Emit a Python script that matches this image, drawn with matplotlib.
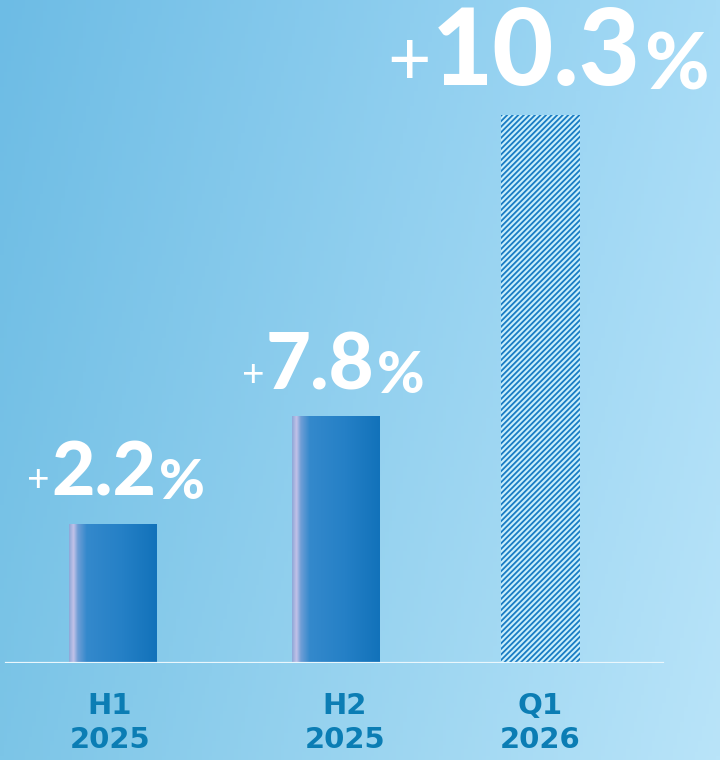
import numpy as np
import matplotlib.pyplot as plt
from matplotlib.colors import LinearSegmentedColormap, to_rgb

plt.rcParams["font.family"] = ["Lato", "DejaVu Sans"]
plt.rcParams["hatch.linewidth"] = 1.3

# data
periods = ["H1\n2025", "H2\n2025", "Q1\n2026"]
growth_pct = [2.2, 7.8, 10.3]
# drawn bar heights (chart is not to scale)
bar_heights = [139, 247, 548]
hatched = [False, False, True]

W, H = 720, 760
PT = 0.72  # points per pixel at dpi 100
fig = plt.figure(figsize=(W / 100, H / 100), dpi=100)

# background gradient
bg = fig.add_axes([0, 0, 1, 1])
tl, tr = np.array(to_rgb("#6dbce5")), np.array(to_rgb("#a6dbf6"))
bl, br = np.array(to_rgb("#7cc5e7")), np.array(to_rgb("#b9e4f9"))
u = np.linspace(0, 1, 200)[None, :, None]
v = np.linspace(0, 1, 200)[:, None, None]
img = (1 - v) * ((1 - u) * tl + u * tr) + v * ((1 - u) * bl + u * br)
bg.imshow(img, aspect="auto", extent=[0, 1, 0, 1])
bg.axis("off")

base_px = 97
ax = fig.add_axes([0, base_px / H, 1, 1 - base_px / H])
ax.patch.set_alpha(0)
for s in ax.spines.values():
    s.set_visible(False)

x_pos = [113, 336, 540.5]
widths = [88, 88, 79]

bar_cmap = LinearSegmentedColormap.from_list(
    "bar", [(0, "#8da8d8"), (0.05, "#c2c2e8"), (0.1, "#6f9ed6"),
            (0.2, "#3489cc"), (0.6, "#2580c6"), (1, "#1272ba")])

for i in range(len(periods)):
    if hatched[i]:
        ax.bar(x_pos[i], bar_heights[i], width=widths[i], color="#c8eefb",
               edgecolor="#1a7cc4", hatch="//////", linewidth=0)
    else:
        b = ax.bar(x_pos[i], bar_heights[i], width=widths[i], color="none")[0]
        grad = np.linspace(0, 1, 256)[None, :]
        im = ax.imshow(grad, cmap=bar_cmap, aspect="auto",
                       extent=[x_pos[i] - widths[i] / 2, x_pos[i] + widths[i] / 2,
                               0, bar_heights[i]], zorder=2)
        im.set_clip_path(b)

ax.set_xlim(0, W)
ax.set_ylim(0, H - base_px)
ax.axhline(0, xmin=6 / W, xmax=663 / W, color="#eaf7fd", lw=1.6, zorder=3)

# value labels: small "+", big number, smaller "%"
big_sizes = [54, 56, 76]
plus_sizes = [28, 28, 54]
label_dx = [-9, -16, -4]
label_dy = [29, 26, 30]
for i in range(len(periods)):
    num = ax.annotate(f"{growth_pct[i]}", xy=(x_pos[i], bar_heights[i]),
                      xytext=(label_dx[i] * PT, label_dy[i] * PT),
                      textcoords="offset points", ha="center", va="baseline",
                      fontsize=big_sizes[i], fontweight="black", color="white")
    ax.annotate("+", xy=(0, 0.4), xycoords=num, xytext=(-1, 0),
                textcoords="offset points", ha="right", va="center",
                fontsize=plus_sizes[i], color="white")
    ax.annotate("%", xy=(1, 0), xycoords=num, xytext=(2, 0),
                textcoords="offset points", ha="left", va="bottom",
                fontsize=big_sizes[i] * 0.74, fontweight="black", color="white")

ax.set_yticks([])
ax.set_xticks([110, 345, 540])
ax.set_xticklabels(periods, fontsize=21, fontweight="bold", color="#0b7db4",
                   linespacing=1.25, family="DejaVu Sans")
ax.tick_params(axis="x", length=0, pad=21)

fig.savefig("out.png", dpi=100)
